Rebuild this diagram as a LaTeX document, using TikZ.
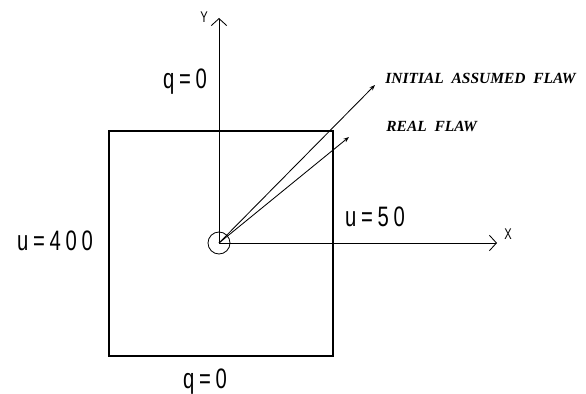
\documentclass[tikz,border=0pt]{standalone}
\usepackage{fontspec}
\newfontfamily\cadfont{Liberation Sans}[FakeStretch=0.72]
\newfontfamily\flawfont{Liberation Serif}
\usetikzlibrary{arrows.meta}

\tikzset{
  axis/.style={-{Straight Barb[length=5pt,width=11pt]}},
  flaw/.style={-{Stealth[length=4pt,width=3pt]}},
  cadlabel/.style={font=\cadfont\fontsize{20}{22}\selectfont,inner sep=0pt},
  axislabel/.style={font=\cadfont\fontsize{11}{12}\selectfont,inner sep=0pt},
  flawlabel/.style={font=\flawfont\bfseries\itshape\fontsize{11}{12}\selectfont,anchor=west,inner sep=0pt}
}

\begin{document}
\begin{tikzpicture}[x=0.025cm,y=-0.025cm,line width=0.6pt]
\useasboundingbox (0,0) rectangle (586,394);

% plate
\draw[line width=0.9pt] (109,131) rectangle (333,356);

% axes
\coordinate (O) at (219,243);
\coordinate (Xend) at (497,243);
\coordinate (Yend) at (219,18);
\draw[axis] (O) -- (Xend);
\draw[axis] (O) -- (Yend);
\node[axislabel] (xl) at (508,234) {X};
\node[axislabel] (yl) at (204,17) {Y};

\draw (O) circle (11);

% flaws
\coordinate (initial) at (375,85);
\coordinate (real) at (349,137);
\draw[flaw] (O) -- (initial);
\draw[flaw] (O) -- (real);
\node[flawlabel] (initiallabel) at (385,78) {INITIAL\ \ ASSUMED\ \ FLAW};
\node[flawlabel] (reallabel) at (386,127) {REAL\ \ FLAW};

% boundary conditions
\node[cadlabel] (qtop) at (185,82) {q\,=\,0};
\node[cadlabel] (qbot) at (205,382) {q\,=\,0};
\node[cadlabel] (uleft) at (55,241) {u\,=\,4\,0\,0};
\node[cadlabel] (uright) at (375,217) {u\,=\,5\,0};

\end{tikzpicture}
\end{document}
